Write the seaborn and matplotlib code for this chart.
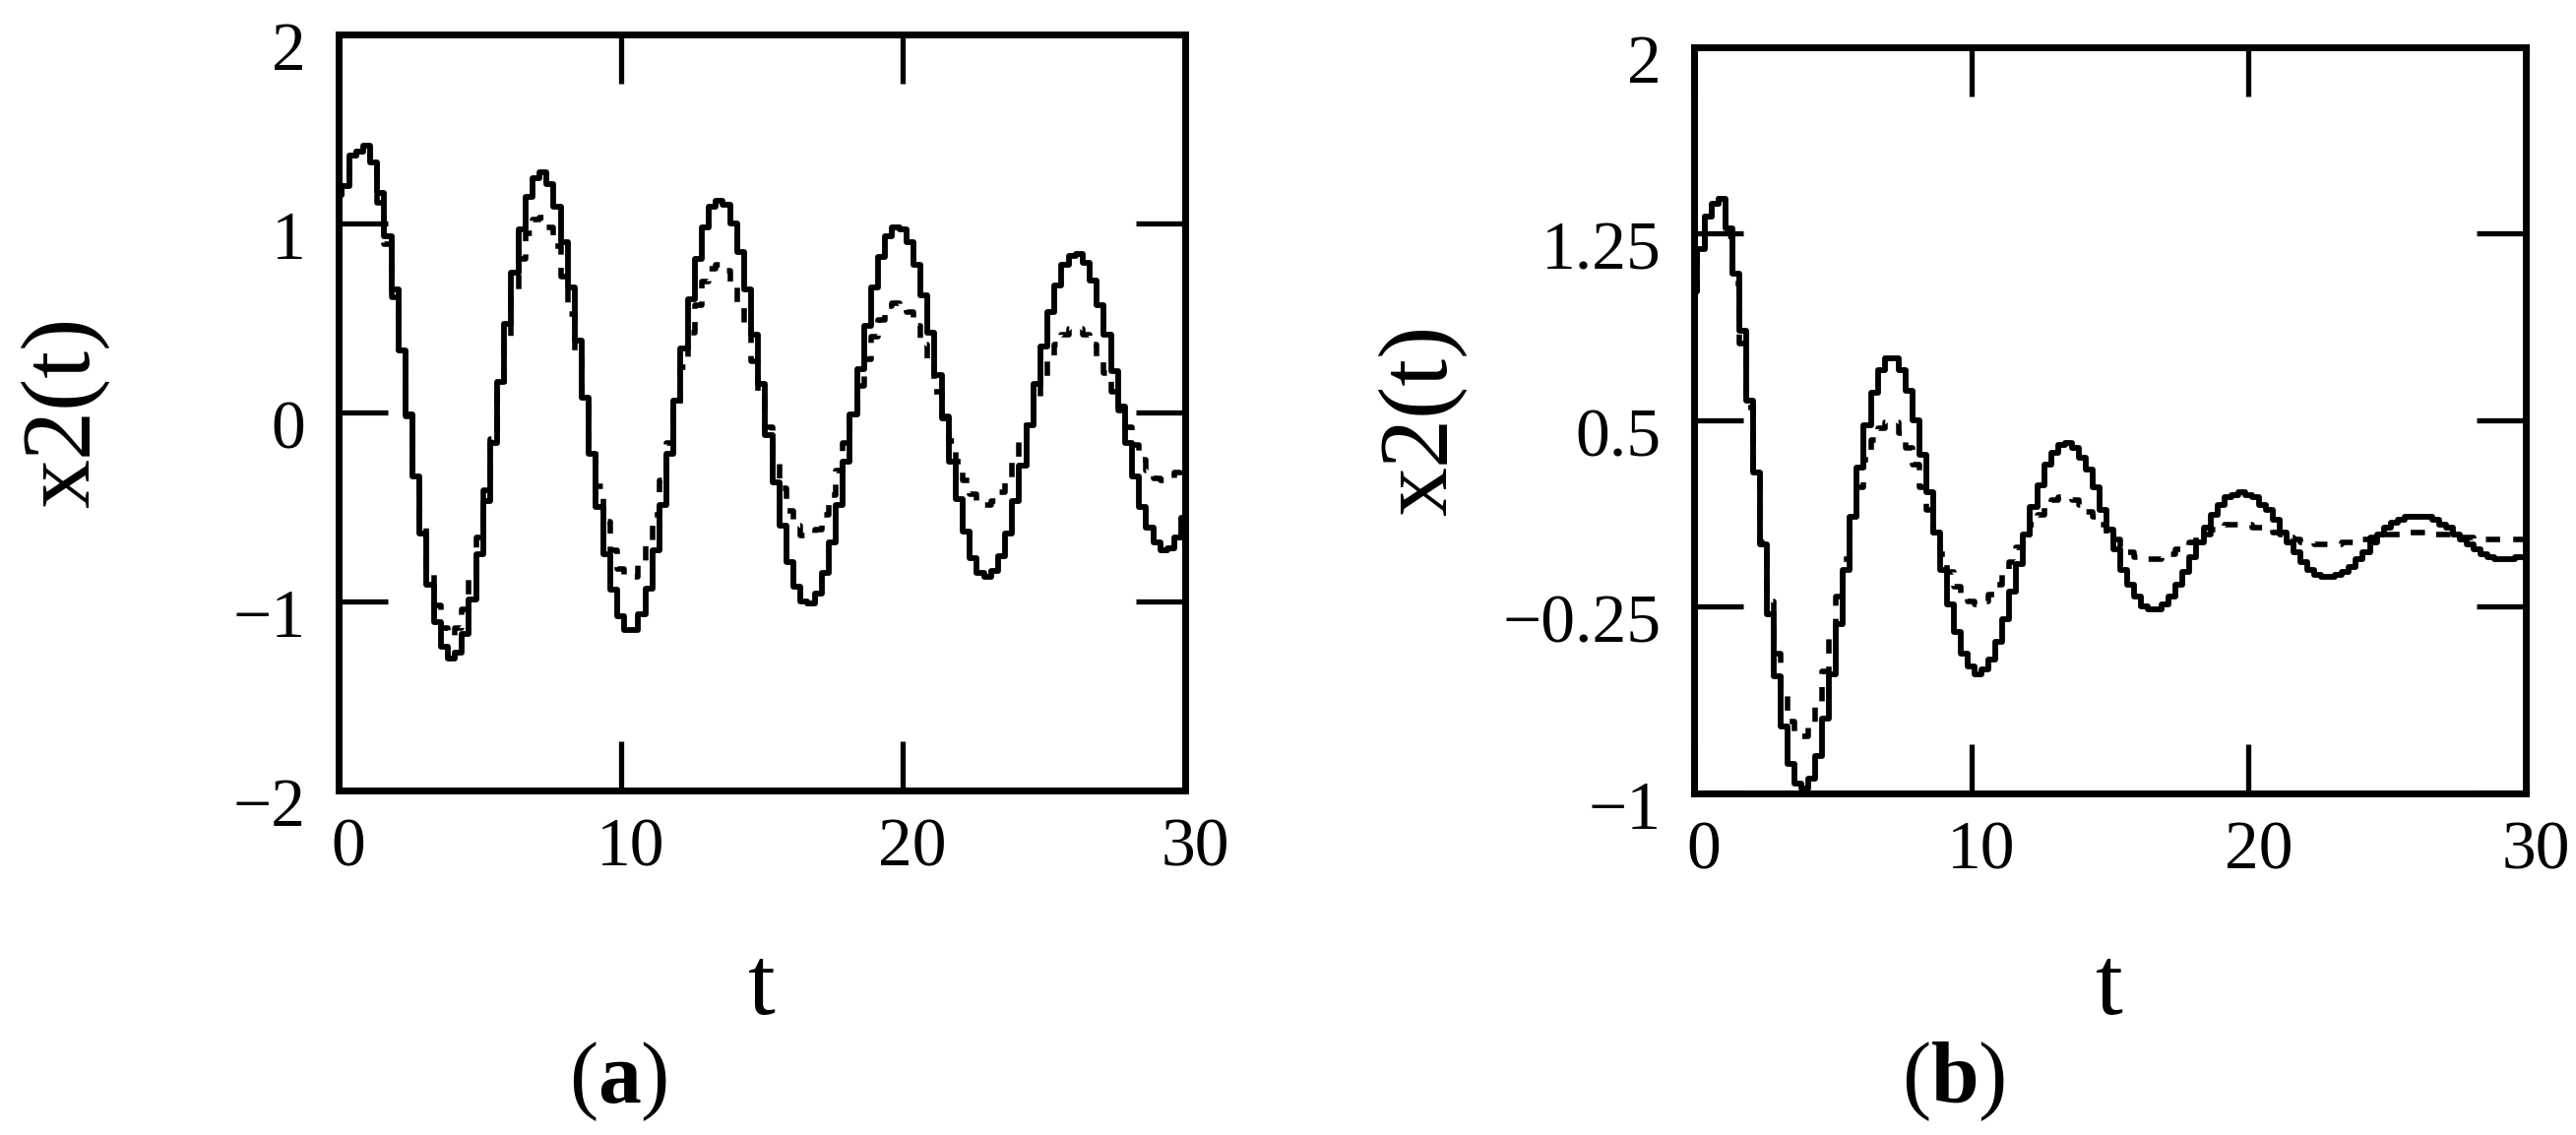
import numpy as np
import matplotlib
matplotlib.use("Agg")
import matplotlib.pyplot as plt
import matplotlib.transforms as mtransforms
import seaborn as sns

# time grid (step 0.25) and responses
t = np.linspace(0, 30, 121)

x2_a_solid = [
    1.15, 1.20, 1.36, 1.38, 1.41, 1.32, 1.16, 0.93, 0.65, 0.33,
    -0.01, -0.34, -0.64, -0.91, -1.11, -1.24, -1.30, -1.27, -1.17, -0.99,
    -0.75, -0.47, -0.16, 0.16, 0.47, 0.74, 0.97, 1.14, 1.24, 1.27,
    1.21, 1.09, 0.90, 0.66, 0.38, 0.08, -0.22, -0.50, -0.75, -0.94,
    -1.08, -1.15, -1.15, -1.07, -0.93, -0.73, -0.49, -0.22, 0.06, 0.34,
    0.60, 0.81, 0.98, 1.09, 1.12, 1.10, 1.00, 0.85, 0.65, 0.41,
    0.15, -0.12, -0.37, -0.60, -0.79, -0.92, -1.00, -1.01, -0.96, -0.85,
    -0.69, -0.49, -0.26, -0.01, 0.23, 0.46, 0.66, 0.82, 0.93, 0.98,
    0.97, 0.90, 0.78, 0.62, 0.42, 0.20, -0.03, -0.26, -0.46, -0.63,
    -0.77, -0.85, -0.87, -0.84, -0.76, -0.64, -0.47, -0.28, -0.07, 0.15,
    0.35, 0.53, 0.67, 0.78, 0.83, 0.84, 0.79, 0.70, 0.57, 0.41,
    0.22, 0.03, -0.16, -0.34, -0.50, -0.61, -0.69, -0.73, -0.72, -0.66,
    -0.56,
]
x2_a_dashed = [
    1.15, 1.20, 1.36, 1.38, 1.41, 1.28, 1.11, 0.89, 0.61, 0.30,
    -0.02, -0.32, -0.60, -0.84, -1.02, -1.14, -1.18, -1.14, -1.04, -0.88,
    -0.66, -0.41, -0.14, 0.13, 0.39, 0.62, 0.81, 0.95, 1.02, 1.03,
    0.98, 0.88, 0.72, 0.52, 0.29, 0.06, -0.18, -0.39, -0.58, -0.73,
    -0.83, -0.87, -0.87, -0.80, -0.69, -0.54, -0.36, -0.16, 0.04, 0.24,
    0.42, 0.57, 0.69, 0.76, 0.78, 0.75, 0.68, 0.58, 0.44, 0.27,
    0.10, -0.08, -0.25, -0.40, -0.52, -0.60, -0.65, -0.65, -0.62, -0.54,
    -0.44, -0.31, -0.16, -0.01, 0.14, 0.28, 0.40, 0.49, 0.56, 0.58,
    0.57, 0.53, 0.46, 0.36, 0.24, 0.11, -0.02, -0.15, -0.26, -0.36,
    -0.43, -0.47, -0.49, -0.47, -0.42, -0.35, -0.26, -0.15, -0.04, 0.08,
    0.19, 0.28, 0.36, 0.41, 0.44, 0.44, 0.41, 0.36, 0.29, 0.21,
    0.11, 0.01, -0.08, -0.17, -0.25, -0.31, -0.35, -0.36, -0.35, -0.32,
    -0.28,
]
x2_b_solid = [
    1.02, 1.19, 1.32, 1.37, 1.39, 1.27, 1.09, 0.86, 0.58, 0.29,
    0.00, -0.28, -0.53, -0.73, -0.88, -0.96, -0.98, -0.94, -0.85, -0.70,
    -0.52, -0.32, -0.10, 0.11, 0.31, 0.48, 0.61, 0.70, 0.75, 0.75,
    0.70, 0.62, 0.50, 0.36, 0.21, 0.05, -0.10, -0.24, -0.35, -0.44,
    -0.49, -0.52, -0.50, -0.46, -0.39, -0.30, -0.19, -0.08, 0.04, 0.15,
    0.24, 0.32, 0.37, 0.40, 0.41, 0.39, 0.35, 0.30, 0.23, 0.14,
    0.06, -0.02, -0.10, -0.16, -0.21, -0.25, -0.26, -0.26, -0.24, -0.21,
    -0.16, -0.11, -0.05, 0.01, 0.07, 0.12, 0.16, 0.19, 0.20, 0.21,
    0.20, 0.19, 0.16, 0.14, 0.10, 0.05, 0.01, -0.03, -0.07, -0.10,
    -0.12, -0.13, -0.13, -0.12, -0.11, -0.09, -0.06, -0.03, 0.01, 0.04,
    0.07, 0.09, 0.10, 0.11, 0.11, 0.11, 0.11, 0.10, 0.08, 0.07,
    0.04, 0.02, 0.00, -0.02, -0.04, -0.05, -0.06, -0.06, -0.06, -0.05,
    -0.05,
]
x2_b_dashed = [
    1.02, 1.19, 1.32, 1.37, 1.39, 1.24, 1.05, 0.81, 0.55, 0.28,
    0.01, -0.23, -0.44, -0.60, -0.71, -0.77, -0.77, -0.72, -0.64, -0.51,
    -0.37, -0.21, -0.06, 0.09, 0.23, 0.34, 0.42, 0.47, 0.49, 0.49,
    0.45, 0.39, 0.32, 0.23, 0.14, 0.05, -0.04, -0.11, -0.17, -0.21,
    -0.23, -0.24, -0.23, -0.20, -0.16, -0.12, -0.07, -0.01, 0.04, 0.08,
    0.12, 0.16, 0.18, 0.19, 0.19, 0.18, 0.16, 0.13, 0.11, 0.08,
    0.04, 0.02, -0.01, -0.03, -0.05, -0.06, -0.06, -0.06, -0.05, -0.04,
    -0.02, -0.01, 0.01, 0.03, 0.04, 0.06, 0.07, 0.08, 0.08, 0.08,
    0.08, 0.07, 0.07, 0.06, 0.05, 0.04, 0.03, 0.02, 0.01, 0.01,
    0.00, 0.00, 0.00, 0.00, 0.01, 0.01, 0.02, 0.02, 0.03, 0.03,
    0.04, 0.04, 0.04, 0.05, 0.05, 0.05, 0.05, 0.04, 0.04, 0.04,
    0.03, 0.03, 0.03, 0.02, 0.02, 0.02, 0.02, 0.02, 0.02, 0.02,
    0.02,
]

x_ticks = [0, 10, 20, 30]
x_labels = ["0", "10", "20", "30"]
y_ticks_a = [-2, -1, 0, 1, 2]
y_labels_a = ["\u22122", "\u22121", "0", "1", "2"]
y_ticks_b = [-1, -0.25, 0.5, 1.25, 2]
y_labels_b = ["\u22121", "\u22120.25", "0.5", "1.25", "2"]

sns.set_style("white")
plt.rcParams["font.family"] = ["Liberation Serif", "DejaVu Serif"]
plt.rcParams["text.color"] = "black"
plt.rcParams["mathtext.fontset"] = "custom"
plt.rcParams["mathtext.rm"] = "Liberation Serif"
plt.rcParams["mathtext.bf"] = "Liberation Serif:bold"

fig = plt.figure(figsize=(26.17, 11.53), dpi=100)
ax_a = fig.add_axes([0.1314, 0.3036, 0.3286, 0.6661])
ax_b = fig.add_axes([0.6576, 0.3010, 0.3229, 0.6574])


def draw_panel(ax, solid, dashed, ylim, yticks, ylabels):
    sns.lineplot(x=t, y=solid, ax=ax, color="black", linewidth=4.2,
                 drawstyle="steps-mid", estimator=None)
    sns.lineplot(x=t, y=dashed, ax=ax, color="black", linewidth=4.0,
                 drawstyle="steps-mid", estimator=None,
                 linestyle=(0, (2.6, 2.4)))
    ax.set_xlim(0, 30)
    ax.set_ylim(*ylim)
    ax.set_xticks(x_ticks)
    ax.set_xticklabels(x_labels)
    ax.set_yticks(yticks)
    ax.set_yticklabels(ylabels)
    ax.set_xlabel("")
    ax.set_ylabel("")
    ax.tick_params(direction="in", length=36, width=3.8, top=True, right=True,
                   bottom=True, left=True, labelsize=50, color="black",
                   labelcolor="black")
    ax.tick_params(axis="x", pad=20)
    ax.tick_params(axis="y", pad=24)
    for sp in ax.spines.values():
        sp.set_visible(True)
        sp.set_linewidth(5.0)
        sp.set_color("black")

    # the labels sit a little right / below their ticks in the original
    shift_x = mtransforms.ScaledTranslation(0.10, 0, fig.dpi_scale_trans)
    shift_y = mtransforms.ScaledTranslation(0, -0.12, fig.dpi_scale_trans)
    for lab in ax.get_xticklabels():
        lab.set_transform(lab.get_transform() + shift_x)
    for lab in ax.get_yticklabels():
        lab.set_transform(lab.get_transform() + shift_y)


draw_panel(ax_a, x2_a_solid, x2_a_dashed, (-2, 2), y_ticks_a, y_labels_a)
draw_panel(ax_b, x2_b_solid, x2_b_dashed, (-1, 2), y_ticks_b, y_labels_b)

# axis titles and panel captions
fig.text(66 / 2617, 1 - 419 / 1153, "x2(t)", rotation=90, fontsize=72,
         ha="center", va="center", color="black")
fig.text(1445 / 2617, 1 - 427 / 1153, "x2(t)", rotation=90, fontsize=72,
         ha="center", va="center", color="black")
fig.text(774 / 2617, 1 - 1030 / 1153, "t", fontsize=72, ha="center",
         va="baseline", color="black")
fig.text(2143 / 2617, 1 - 1030 / 1153, "t", fontsize=72, ha="center",
         va="baseline", color="black")
fig.text(628 / 2617, 1 - 1120 / 1153, r"($\mathbf{a}$)", fontsize=63,
         ha="center", va="baseline", color="black")
fig.text(1985 / 2617, 1 - 1120 / 1153, r"($\mathbf{b}$)", fontsize=63,
         ha="center", va="baseline", color="black")

fig.savefig("out.png", dpi=100, facecolor="white")
